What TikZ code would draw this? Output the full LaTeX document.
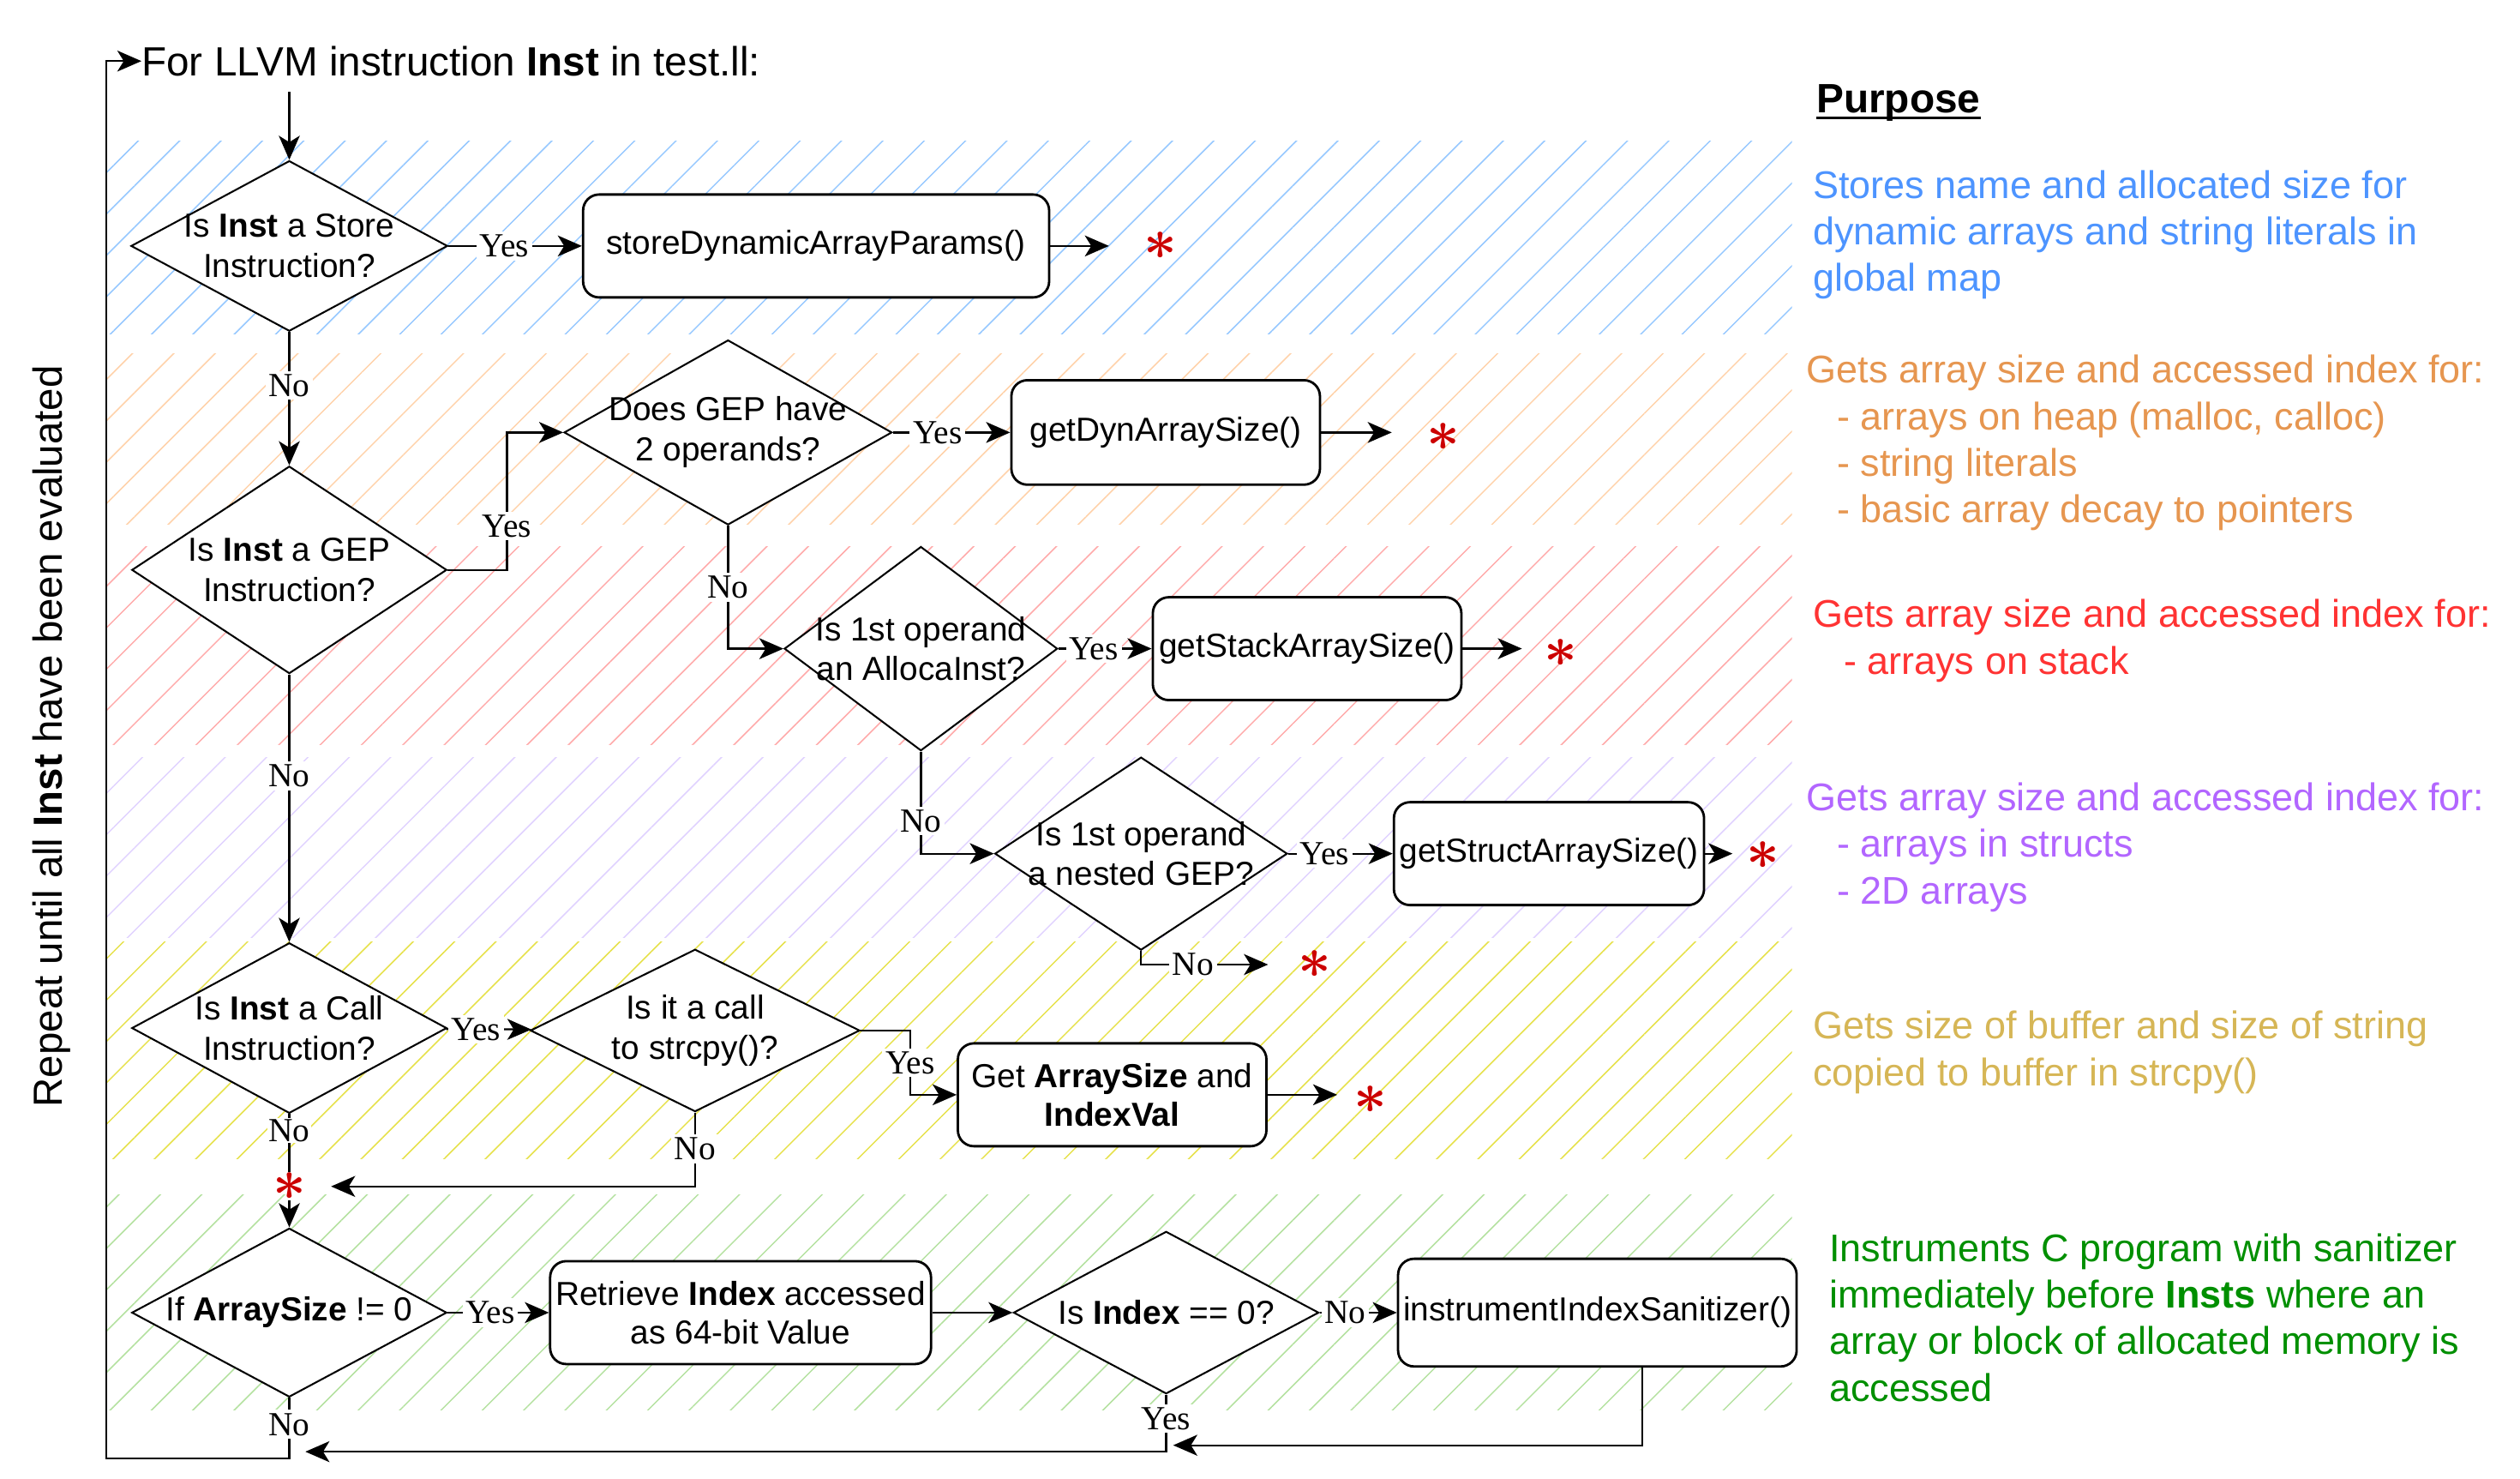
\RequirePackage{fix-cm}
\documentclass[tikz,border=0pt]{standalone}
\usepackage{fontspec}
\setmainfont{Liberation Sans}
\newfontfamily\yesnofont{Liberation Serif}
\usetikzlibrary{arrows.meta,positioning,shapes.geometric,patterns.meta}
\definecolor{hatchblue}{HTML}{96C8FF}
\definecolor{hatchorange}{HTML}{FFD2AA}
\definecolor{hatchred}{HTML}{FFAAAA}
\definecolor{hatchpurple}{HTML}{E0D2FF}
\definecolor{hatchyellow}{HTML}{E6E14B}
\definecolor{hatchgreen}{HTML}{B4E1A0}
\definecolor{noteblue}{HTML}{4D94FF}
\definecolor{noteorange}{HTML}{E69650}
\definecolor{notered}{HTML}{FF3333}
\definecolor{notepurple}{HTML}{B266FF}
\definecolor{notegold}{HTML}{D6B656}
\definecolor{notegreen}{HTML}{008F00}
\definecolor{astred}{HTML}{CC0000}

\begin{document}
\begin{tikzpicture}[x=1pt, y=-1pt,
  dia/.style={diamond, draw, line width=1.1pt, fill=white, inner sep=0pt},
  dtxt/.style={align=center, inner sep=0pt, font=\fontsize{20.7}{25}\selectfont},
  box/.style={draw, rounded corners=10pt, line width=1.5pt, fill=white, minimum height=64pt,
              align=center, inner sep=1pt, font=\fontsize{20.7}{24}\selectfont},
  arr/.style={-{Stealth[length=15pt, width=13pt, inset=4pt]}, line width=1.2pt},
  lbl/.style={fill=white, inner sep=2pt, font=\yesnofont\fontsize{21}{21}\selectfont},
  ast/.style={text=astred, inner sep=0pt, font=\boldmath\fontsize{36}{36}\selectfont},
  band/.style={pattern={Lines[angle=45, distance=18.2pt, line width=0.8pt]}, pattern color=#1},
  note/.style={anchor=west, align=left, inner sep=0pt, text=#1, font=\fontsize{24}{29}\selectfont}
]
  \useasboundingbox (0,0) rectangle (1568,920);

  \path[band=hatchblue]   (66,88)  rectangle (1115,208);
  \path[band=hatchorange] (66,220) rectangle (1115,326);
  \path[band=hatchred]    (66,340) rectangle (1115,463);
  \path[band=hatchpurple] (66,471) rectangle (1115,583);
  \path[band=hatchyellow] (66,586) rectangle (1115,721);
  \path[band=hatchgreen]  (66,743) rectangle (1115,877);

  \node[anchor=west, inner sep=0pt, font=\fontsize{25.4}{30}\selectfont] (T) at (88,38)
    {For LLVM instruction \textbf{Inst} in test.ll:};
  \node[rotate=90, font=\fontsize{25.3}{30}\selectfont] (R) at (32,458)
    {Repeat until all \textbf{Inst} have been evaluated};
  \coordinate (T0) at (180,57);

  \node[dia, minimum width=197pt, minimum height=106pt,
        label={[dtxt]center:Is \textbf{Inst} a Store\\Instruction?}] (S1) at (180,153) {};
  \node[box, minimum width=290pt, right=83pt of S1] (B1) {storeDynamicArrayParams()};

  \node[dia, minimum width=196pt, minimum height=129pt,
        label={[dtxt]center:Is \textbf{Inst} a GEP\\Instruction?}] (G1) at (180,354.5) {};
  \node[dia, minimum width=204pt, minimum height=115pt,
        label={[dtxt]center:Does GEP have\\2 operands?}] (G2) at (453,269) {};
  \node[box, minimum width=192pt, minimum height=65pt, right=73pt of G2] (B2) {getDynArraySize()};

  \node[dia, minimum width=170pt, minimum height=127pt,
        label={[dtxt]center:Is 1st operand\\an AllocaInst?}] (A1) at (573,403.5) {};
  \node[box, minimum width=192pt, right=58pt of A1] (B3) {getStackArraySize()};

  \node[dia, minimum width=182pt, minimum height=120pt,
        label={[dtxt]center:Is 1st operand\\a nested GEP?}] (N1) at (710,531) {};
  \node[box, minimum width=193pt, right=65pt of N1] (B4) {getStructArraySize()};

  \node[dia, minimum width=196pt, minimum height=106pt,
        label={[dtxt]center:Is \textbf{Inst} a Call\\Instruction?}] (C1) at (180,639.5) {};
  \node[dia, minimum width=205pt, minimum height=101pt,
        label={[dtxt]center:Is it a call\\to strcpy()?}] (C2) at (432.5,641) {};
  \node[box, minimum width=192pt] (B5) at (692,681) {Get \textbf{ArraySize} and\\\textbf{IndexVal}};

  \node[dia, minimum width=196pt, minimum height=105pt,
        label={[dtxt]center:If \textbf{ArraySize} != 0}] (Z1) at (180,816.5) {};
  \node[box, minimum width=237pt, right=63pt of Z1] (B6) {Retrieve \textbf{Index} accessed\\as 64-bit Value};
  \node[dia, minimum width=190pt, minimum height=101pt, right=50pt of B6,
        label={[dtxt]center:Is \textbf{Index} == 0?}] (Z2) {};
  \node[box, minimum width=248pt, minimum height=67pt, right=48pt of Z2] (B7) {instrumentIndexSanitizer()};

  \node[ast] (X0) at (180,738) {$\ast$};
  \node[ast] (X1) at (722,153) {$\ast$};
  \node[ast] (X2) at (898,272) {$\ast$};
  \node[ast] (X3) at (971,406) {$\ast$};
  \node[ast] (X4) at (1097,532) {$\ast$};
  \node[ast] (X5) at (818,600) {$\ast$};
  \node[ast] (X6) at (853,684) {$\ast$};

  \coordinate (J1) at (730,899);
  \coordinate (J2) at (190,903);
  \coordinate (J3) at (66,907);

  \draw[arr] (T0) -- (S1);
  \draw[arr] (S1) -- node[lbl, pos=0.42] {Yes} (B1);
  \draw[arr, shorten >=32pt] (B1) -- (B1 -| X1);
  \draw[arr] (S1) -- node[lbl, pos=0.4] {No} (G1);
  \draw[arr] (G1.east) -| node[lbl, pos=0.66] {Yes} ([xshift=-35pt]G2.west) -- (G2.west);
  \draw[arr] (G2) -- node[lbl, pos=0.38] {Yes} (B2);
  \draw[arr, shorten >=32pt] (B2) -- (B2 -| X2);
  \draw[arr] (G2) |- node[lbl, pos=0.25] {No} (A1);
  \draw[arr] (A1) -- node[lbl, pos=0.38] {Yes} (B3);
  \draw[arr, shorten >=24pt] (B3) -- (B3 -| X3);
  \draw[arr] (A1) |- node[lbl, pos=0.34] {No} (N1);
  \draw[arr] (N1) -- node[lbl, pos=0.35] {Yes} (B4);
  \draw[arr, shorten >=19pt] (B4) -- (B4 -| X4);
  \draw[arr, shorten >=29pt] (N1) |- node[lbl, pos=0.65] {No} (X5.center);
  \draw[arr] (G1) -- node[lbl, pos=0.38] {No} (C1);
  \draw[arr] (C1) -- node[lbl, pos=0.35] {Yes} (C2);
  \draw[arr] (C2.east) -| node[lbl, pos=0.75] {Yes} ([xshift=-29pt]B5.west) -- (B5.west);
  \draw[arr, shorten >=21pt] (B5) -- (B5 -| X6);
  \draw[line width=1.2pt] (C1) -- node[lbl, pos=0.28, inner sep=1pt] {No} (X0);
  \draw[arr, shorten >=26pt] (C2) |- node[lbl, pos=0.245] {No} (X0.center);
  \draw[arr] (X0) -- (Z1);
  \draw[arr] (Z1) -- node[lbl, pos=0.42] {Yes} (B6);
  \draw[arr] (B6) -- (Z2);
  \draw[arr] (Z2) -- node[lbl, pos=0.33] {No} (B7);
  \draw[arr] ([xshift=28pt]B7.south) |- (J1);
  \draw[arr] (Z2) |- node[lbl, pos=0.21] {Yes} (J2);
  \draw[arr] (Z1) |- node[lbl, pos=0.22] {No} (J3) |- (T.west);

  \node[anchor=base west, inner sep=0pt, font=\bfseries\fontsize{25.5}{30}\selectfont] (P0) at (1130,70) {Purpose};
  \draw[line width=1.8pt] ([yshift=-3.5pt]P0.base west) -- ([yshift=-3.5pt]P0.base east);
  \node[note=noteblue] (P1) at (1128,146)
    {Stores name and allocated size for\\dynamic arrays and string literals in\\global map};
  \node[note=noteorange] (P2) at (1124,275.5)
    {Gets array size and accessed index for:\\\hspace*{19pt}- arrays on heap (malloc, calloc)\\
     \hspace*{19pt}- string literals\\\hspace*{19pt}- basic array decay to pointers};
  \node[note=notered] (P3) at (1128,398.5)
    {Gets array size and accessed index for:\\\hspace*{19pt}- arrays on stack};
  \node[note=notepurple] (P4) at (1124,527)
    {Gets array size and accessed index for:\\\hspace*{19pt}- arrays in structs\\\hspace*{19pt}- 2D arrays};
  \node[note=notegold] (P5) at (1128,654.5)
    {Gets size of buffer and size of string\\copied to buffer in strcpy()};
  \node[note=notegreen] (P6) at (1138,819.5)
    {Instruments C program with sanitizer\\immediately before \textbf{Insts} where an\\
     array or block of allocated memory is\\accessed};
\end{tikzpicture}
\end{document}
